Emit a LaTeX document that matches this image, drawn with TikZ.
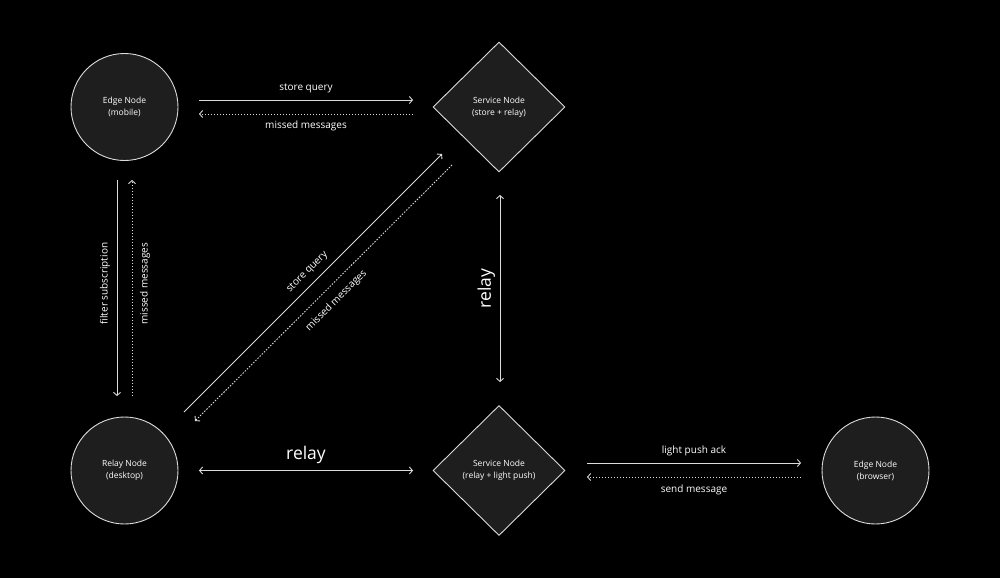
\documentclass[tikz,border=0pt]{standalone}
\usepackage{fontspec}
\setmainfont{Open Sans}
\usetikzlibrary{shapes.geometric,arrows.meta}
\definecolor{node-fill}{HTML}{1E1E1E}
\definecolor{line-gray}{HTML}{DCDCDC}
\tikzset{
    >={Straight Barb[length=3pt,width=7pt]},
    round-node/.style = {circle, draw=line-gray, fill=node-fill, line width=0.9pt, minimum size=107pt, inner sep=0pt, text=white, font=\fontsize{8.5}{12}\selectfont, align=center},
    service-node/.style = {diamond, draw=line-gray, fill=node-fill, line width=0.9pt, minimum width=132pt, minimum height=130pt, inner sep=0pt, text=white, font=\fontsize{8.5}{12}\selectfont, align=center},
    msg-line/.style = {draw=line-gray, line width=0.9pt},
    msg-back/.style = {msg-line, dash pattern=on 1.5pt off 1.5pt},
    msg-label/.style = {text=white, font=\fontsize{10}{12}\selectfont, inner sep=0pt, outer sep=7pt},
    relay-label/.style = {msg-label, font=\fontsize{17.5}{20}\selectfont},
}
\begin{document}
\begin{tikzpicture}[x=1pt,y=-1pt]
\fill[black] (0,0) rectangle (1000,578);
\node[round-node] (edge-mobile) at (124.5,107) {Edge Node\\(mobile)};
\node[service-node] (service-store) at (499,107) {Service Node\\(store + relay)};
\node[round-node] (relay-desktop) at (124.5,470.5) {Relay Node\\(desktop)};
\node[service-node] (service-push) at (499,470.5) {Service Node\\(relay + light push)};
\node[round-node] (edge-browser) at (875.5,470.5) {Edge Node\\(browser)};

\draw[msg-line, ->] ([shift={(74.5,-7)}]edge-mobile.center) -- node[msg-label, anchor=south]{store query} ([shift={(-86,-7)}]service-store.center);
\draw[msg-back, ->] ([shift={(-86,7)}]service-store.center) -- node[msg-label, anchor=north]{missed messages} ([shift={(74.5,7)}]edge-mobile.center);
\draw[msg-line, ->] ([shift={(-7.5,73)}]edge-mobile.center) -- node[msg-label, pos=0.48, rotate=90, anchor=south]{filter subscription} ([shift={(-7.5,-74.5)}]relay-desktop.center);
\draw[msg-back, ->] ([shift={(7.5,-74.5)}]relay-desktop.center) -- node[msg-label, pos=0.52, rotate=90, anchor=north, outer sep=8pt]{missed messages} ([shift={(7.5,73)}]edge-mobile.center);
\draw[msg-line, ->] ([shift={(59.5,-58.5)}]relay-desktop.center) -- node[msg-label, pos=0.51, rotate=45, anchor=south]{store query} ([shift={(-57,47)}]service-store.center);
\draw[msg-back, ->] ([shift={(-47,58)}]service-store.center) -- node[msg-label, pos=0.49, rotate=45, anchor=north, outer sep=9.5pt]{missed messages} ([shift={(70.5,-49.5)}]relay-desktop.center);
\draw[msg-line, <->] ([shift={(1,88)}]service-store.center) -- node[relay-label, rotate=90, anchor=south, outer sep=5pt]{relay} ([shift={(1,-88.5)}]service-push.center);
\draw[msg-line, <->] ([shift={(74.5,0)}]relay-desktop.center) -- node[relay-label, anchor=south]{relay} ([shift={(-86,0)}]service-push.center);
\draw[msg-line, ->] ([shift={(88,-7.5)}]service-push.center) -- node[msg-label, anchor=south]{light push ack} ([shift={(-74.5,-7.5)}]edge-browser.center);
\draw[msg-back, ->] ([shift={(-74.5,6.5)}]edge-browser.center) -- node[msg-label, anchor=north, outer sep=8pt]{send message} ([shift={(88,6.5)}]service-push.center);
\end{tikzpicture}
\end{document}
